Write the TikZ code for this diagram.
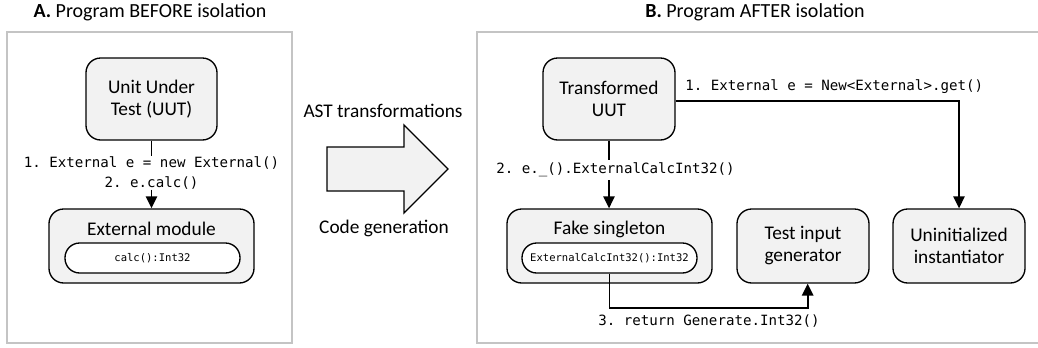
\documentclass[tikz,border=0pt]{standalone}
\usepackage{fontspec}
\setmainfont{Carlito}
\setmonofont{DejaVu Sans Mono}
\usetikzlibrary{arrows.meta}
\definecolor{boxfill}{HTML}{F2F2F2}
\definecolor{panelgray}{HTML}{C4C4C4}
\begin{document}
\begin{tikzpicture}[x=0.75pt,y=-0.75pt,
  panel/.style={draw=panelgray, line width=0.9pt},
  box/.style={draw=black, fill=boxfill, rounded corners=11pt, line width=1pt, align=center, inner sep=0pt, font=\fontsize{14.5}{16.5}\selectfont},
  pill/.style={draw=black, fill=white, rounded corners=11pt, line width=1pt, inner sep=0pt, font=\fontsize{7.9}{9}\selectfont\ttfamily},
  conn/.style={line width=1.4pt},
  arr/.style={conn, -{Triangle[width=8.5pt,length=9pt]}},
  code/.style={font=\fontsize{10.6}{15}\selectfont\ttfamily, inner sep=0pt, align=center},
  title/.style={font=\fontsize{15}{18}\selectfont},
  lbl/.style={font=\fontsize{14.5}{17}\selectfont}
]
\useasboundingbox (0,0) rectangle (1038,347);
\fill[white] (0,0) rectangle (1038,347);
% panels
\draw[panel] (7,32) rectangle (292,343);
\draw[panel] (477,32) rectangle (1045,343);
\node[title] (tA) at (150,12) {\textbf{A.} Program BEFORE isolation};
\node[title] (tB) at (755,12) {\textbf{B.} Program AFTER isolation};
% panel A
\node[box, minimum width=131*0.75pt, minimum height=82*0.75pt] (uut) at (151.5,99) {Unit Under\\Test (UUT)};
\node[box, minimum width=205*0.75pt, minimum height=74*0.75pt] (ext) at (151.5,246) {};
\node[lbl] (extt) at (151.5,229) {External module};
\node[pill, minimum width=175*0.75pt, minimum height=30*0.75pt] (calc) at (152.5,258) {calc():Int32};
\node[code] (la) at (151.5,173) {1. External e = new External()\\2. e.calc()};
\draw[conn] (uut.south) -- (uut.south |- la.north);
\draw[arr] (uut.south |- la.south) -- (uut.south |- ext.north);
% big arrow
\draw[fill=boxfill, line width=1pt] (327,147) -- (404,147) -- (404,125) -- (448,169) -- (404,213) -- (404,191) -- (327,191) -- cycle;
\node[lbl] (ast) at (383,111) {AST transformations};
\node[lbl] (cg) at (384,228) {Code generation};
% panel B
\node[box, minimum width=132*0.75pt, minimum height=82*0.75pt] (tuut) at (609,99) {Transformed\\UUT};
\node[box, minimum width=205*0.75pt, minimum height=74*0.75pt] (fake) at (609.5,246) {};
\node[lbl] (faket) at (609.5,229) {Fake singleton};
\node[pill, minimum width=175*0.75pt, minimum height=30*0.75pt] (ecalc) at (609.5,258) {ExternalCalcInt32():Int32};
\node[box, minimum width=132*0.75pt, minimum height=74*0.75pt] (gen) at (803,246) {Test input\\generator};
\node[box, minimum width=132*0.75pt, minimum height=74*0.75pt] (uninit) at (959,246) {Uninitialized\\instantiator};
% connector 1
\draw[arr] ([yshift=-1.5pt]tuut.east) -| (uninit.north);
\node[code, anchor=west] (l1) at (685,87) {1. External e = New<External>.get()};
% connector 2
\node[code, inner ysep=2pt] (l2) at (615.5,170) {2. e.\_().ExternalCalcInt32()};
\draw[conn] (tuut.south) -- (tuut.south |- l2.north);
\draw[arr] (tuut.south |- l2.south) -- (tuut.south |- fake.north);
% connector 3
\draw[arr] (ecalc.south) -- ++(0,34) -| ([xshift=3.5pt]gen.south);
\node[code] (l3) at (709,321) {3. return Generate.Int32()};
\end{tikzpicture}
\end{document}
